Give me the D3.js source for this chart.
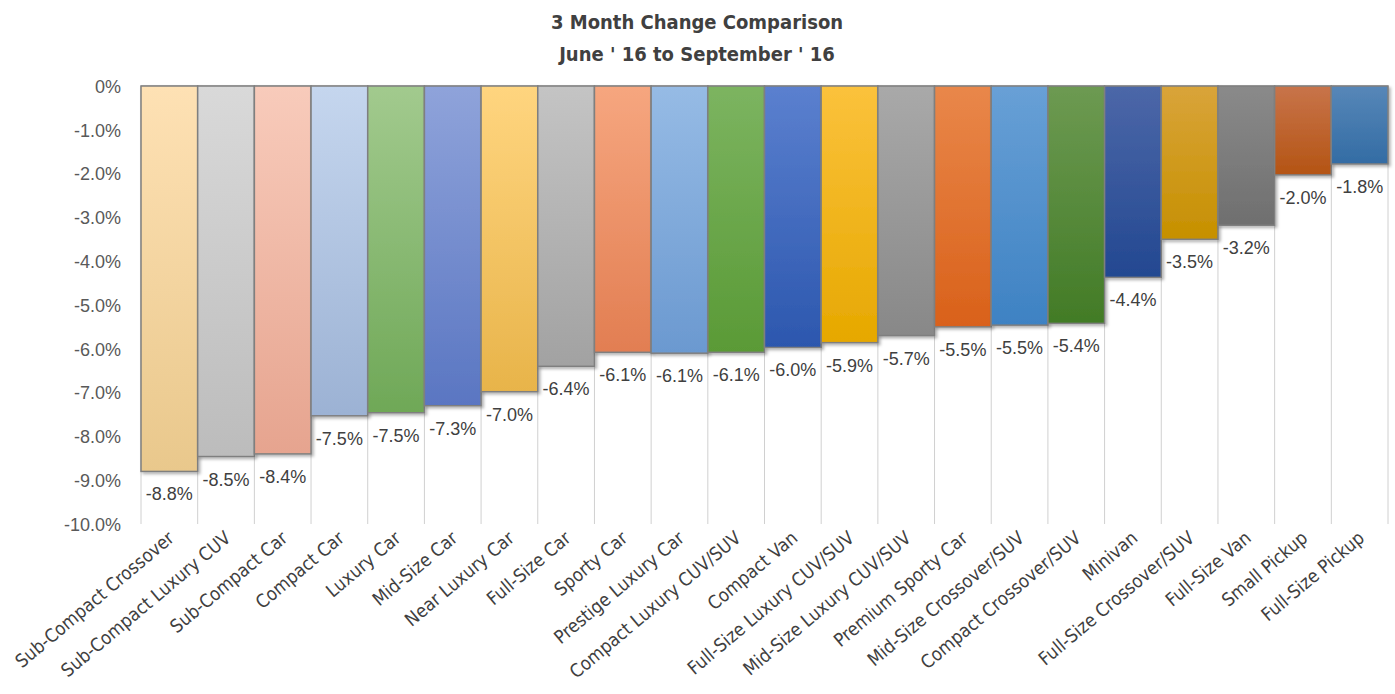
<!DOCTYPE html>
<html>
<head>
<meta charset="utf-8">
<script src="https://cdn.jsdelivr.net/npm/d3@7"></script>
<style>
  body { margin: 0; background: #fff; }
  svg { display: block; }
</style>
</head>
<body>
<div id="plot"></div>
<script>
// Data
var categories = ["Sub-Compact Crossover", "Sub-Compact Luxury CUV", "Sub-Compact Car", "Compact Car",
  "Luxury Car", "Mid-Size Car", "Near Luxury Car", "Full-Size Car", "Sporty Car", "Prestige Luxury Car",
  "Compact Luxury CUV/SUV", "Compact Van", "Full-Size Luxury CUV/SUV", "Mid-Size Luxury CUV/SUV",
  "Premium Sporty Car", "Mid-Size Crossover/SUV", "Compact Crossover/SUV", "Minivan",
  "Full-Size Crossover/SUV", "Full-Size Van", "Small Pickup", "Full-Size Pickup"];
var values = [-8.8, -8.46, -8.4, -7.53, -7.46, -7.3, -6.98, -6.4, -6.08, -6.1, -6.08,
  -5.97, -5.86, -5.7, -5.5, -5.46, -5.42, -4.37, -3.5, -3.18, -2.03, -1.78];
var topColors = ["#fee1b4", "#d9d9d9", "#f8cbbb", "#c5d6ee", "#a2ca8e", "#8fa3da", "#ffd57f", "#c4c4c4",
  "#f6a67f", "#96bbe5", "#7cb460", "#5b80cf", "#fbc23c", "#a9a9a9", "#e9874a", "#68a0d6",
  "#6d9a52", "#4c67a8", "#d9a43a", "#8a8a8a", "#c8744a", "#5787b8"];
var bottomColors = ["#e9c88c", "#bcbcbc", "#e6a48f", "#9cb2d4", "#6fa857", "#5a76c2", "#e8b44a", "#a2a2a2",
  "#e27e52", "#6b99d0", "#5a9a36", "#2c57ae", "#e6a800", "#888888", "#d9611a", "#3e82c3",
  "#427b26", "#234891", "#c69000", "#6f6f6f", "#b45414", "#336ca4"];
var yTicks = [0, -1, -2, -3, -4, -5, -6, -7, -8, -9, -10];

// Dimensions
var W = 1395, H = 694;
var plotLeft = 141, plotRight = 1388, plotTop = 86, plotBottom = 524;
var condensed = "'Liberation Sans Narrow', 'DejaVu Sans Condensed', sans-serif";

var svg = d3.select("#plot").append("svg")
  .attr("width", W).attr("height", H);

var defs = svg.append("defs");
categories.forEach(function(c, i) {
  var g = defs.append("linearGradient")
    .attr("id", "grad" + i)
    .attr("x1", 0).attr("y1", 0).attr("x2", 0).attr("y2", 1);
  g.append("stop").attr("offset", "0%").attr("stop-color", topColors[i]);
  g.append("stop").attr("offset", "100%").attr("stop-color", bottomColors[i]);
});
var shadow = defs.append("filter").attr("id", "shadow")
  .attr("x", "-10%").attr("y", "-10%").attr("width", "130%").attr("height", "130%");
shadow.append("feDropShadow")
  .attr("dx", 2).attr("dy", 2).attr("stdDeviation", 1.5)
  .attr("flood-color", "#000").attr("flood-opacity", 0.3);

var x = d3.scaleBand().domain(categories).range([plotLeft, plotRight]).padding(0);
var y = d3.scaleLinear().domain([0, -10]).range([plotTop, plotBottom]);

// Title
var title = svg.append("text")
  .attr("text-anchor", "middle")
  .style("font-family", condensed)
  .style("font-weight", "bold").style("font-size", "20px").attr("fill", "#404040");
title.append("tspan").attr("x", 697).attr("y", 29).text("3 Month Change Comparison");
title.append("tspan").attr("x", 697).attr("y", 61).text("June ' 16 to September ' 16");

// Vertical gridlines at band edges
var edges = categories.map(function(c) { return x(c); }).concat([plotRight]);
svg.append("g").selectAll("line").data(edges).enter().append("line")
  .attr("x1", function(d) { return d; }).attr("x2", function(d) { return d; })
  .attr("y1", plotTop).attr("y2", plotBottom)
  .attr("stroke", "#d0d0d0").attr("stroke-width", 1);

// Y axis (plain hyphen for the minus sign, like the original)
var yAxis = d3.axisLeft(y).tickValues(yTicks).tickSize(0).tickPadding(0)
  .tickFormat(function(d) { return d === 0 ? "0%" : d.toFixed(1) + "%"; });
var ya = svg.append("g").attr("transform", "translate(121,0)").call(yAxis);
ya.select(".domain").remove();
ya.selectAll("text")
  .style("font-family", "'Liberation Sans', Arial, sans-serif")
  .style("font-size", "18px").attr("fill", "#595959").attr("dy", "0.35em");

// Top axis line at 0
svg.append("line")
  .attr("x1", plotLeft).attr("x2", plotRight).attr("y1", y(0)).attr("y2", y(0))
  .attr("stroke", "#c8c8c8").attr("stroke-width", 1.5);

// Bars
svg.append("g").selectAll("rect").data(values).enter().append("rect")
  .attr("x", function(d, i) { return x(categories[i]); })
  .attr("y", y(0))
  .attr("width", x.bandwidth())
  .attr("height", function(d) { return y(d) - y(0); })
  .attr("fill", function(d, i) { return "url(#grad" + i + ")"; })
  .attr("stroke", "#7f7f7f").attr("stroke-width", 1.5)
  .attr("filter", "url(#shadow)");

// Data labels
svg.append("g").selectAll("text").data(values).enter().append("text")
  .attr("x", function(d, i) { return x(categories[i]) + x.bandwidth() / 2; })
  .attr("y", function(d) { return y(d) + 29; })
  .attr("text-anchor", "middle")
  .style("font-family", "'Liberation Sans', Arial, sans-serif")
  .style("font-size", "18px").attr("fill", "#404040")
  .text(function(d) { return d.toFixed(1) + "%"; });

// X labels
svg.append("g").selectAll("text").data(categories).enter().append("text")
  .attr("transform", function(d) {
    return "translate(" + (x(d) + x.bandwidth() / 2 + 6) + "," + 540 + ") rotate(-40)";
  })
  .attr("text-anchor", "end")
  .style("font-family", condensed)
  .style("font-size", "18.5px").attr("fill", "#404040")
  .text(function(d) { return d; });
</script>
</body>
</html>
